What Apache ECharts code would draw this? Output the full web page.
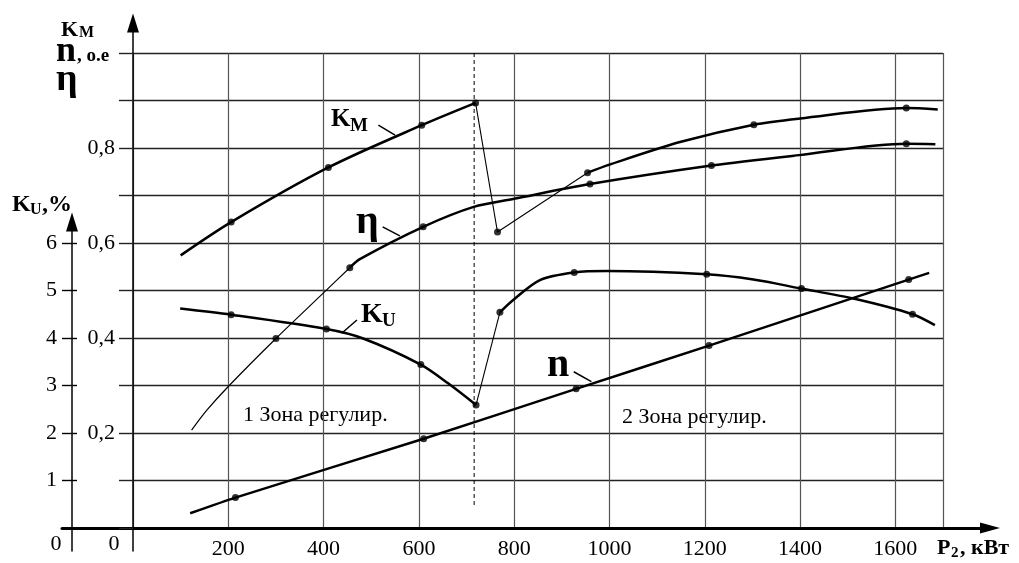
<!DOCTYPE html>
<html>
<head>
<meta charset="UTF-8">
<title>Зоны регулирования</title>
<script src="https://cdn.jsdelivr.net/npm/echarts@6/dist/echarts.min.js"></script>
<style>
  html,body{margin:0;padding:0;background:#fff}
  #main{width:1019px;height:563px}
</style>
</head>
<body>
<div id="main"></div>
<script>
// ось P2, кВт и подписи осей
var xTicks = [200, 400, 600, 800, 1000, 1200, 1400, 1600];
var etaTicks = [0.2, 0.4, 0.6, 0.8];
var kuTicks = [1, 2, 3, 4, 5, 6];

// Kм (о.е.)
var kmRise = [[100,0.574],[206,0.644],[410,0.759],[606,0.848],[719,0.895]];
var kmDrop = [[719,0.895],[765,0.623],[954,0.748]];
var kmTail = [[954,0.748],[1000,0.765],[1150,0.813],[1303,0.849],[1400,0.862],[1623,0.884],[1689,0.881]];
var kmDots = [[206,0.644],[410,0.759],[606,0.848],[719,0.895],[765,0.623],[954,0.748],[1303,0.849],[1623,0.884]];

// КПД η
var etaLow = [[123,0.206],[155,0.248],[201,0.299],[300,0.399],[402,0.497],[455,0.548]];
var etaHigh = [[455,0.548],[476,0.566],[609,0.634],[715,0.676],[800,0.693],[959,0.724],[1214,0.763],[1398,0.785],[1623,0.809],[1684,0.808]];
var etaDots = [[300,0.399],[455,0.548],[609,0.634],[959,0.724],[1214,0.763],[1623,0.809]];

// Ku, %
var kuLow = [[99,4.62],[206,4.49],[406,4.19],[483,3.99],[604,3.44],[662,3.04],[720,2.59]];
var kuRise = [[720,2.59],[770,4.54]];
var kuHigh = [[770,4.54],[798,4.80],[854,5.22],[926,5.38],[994,5.41],[1204,5.34],[1302,5.23],[1403,5.04],[1512,4.83],[1636,4.50],[1683,4.27]];
var kuDots = [[206,4.49],[406,4.19],[604,3.44],[720,2.59],[770,4.54],[926,5.38],[1204,5.34],[1403,5.04],[1636,4.50]];

// n (о.е.)
var nCurve = [[120,0.031],[215,0.064],[610,0.188],[930,0.293],[1209,0.384],[1628,0.523],[1671,0.537]];
var nDots = [[215,0.064],[610,0.188],[930,0.293],[1209,0.384],[1628,0.523]];

// граница зон и выноски
var zoneBorder = [[716,1.0],[716,0.048]];
var kmLeader = [[515,0.848],[550,0.827]];
var etaLeader = [[524,0.634],[560,0.615]];
var kuLeader = [[438,4.10],[470,4.38]];
var nLeader = [[925,0.329],[962,0.308]];

var FONT = 'Liberation Serif';

var chart = echarts.init(document.getElementById('main'));

function curve(data, width, yIdx, smooth) {
  return {type:'line', data:data, xAxisIndex:0, yAxisIndex:yIdx, smooth:smooth,
    symbol:'none', silent:true, animation:false, z:5,
    lineStyle:{color:'#000', width:width}};
}
function dots(data, yIdx) {
  return {type:'scatter', data:data, xAxisIndex:0, yAxisIndex:yIdx, symbolSize:7,
    silent:true, animation:false, z:6, itemStyle:{color:'#000'}};
}
function txt(x, y, s, size, bold, align) {
  return {type:'text', x:x, y:y, silent:true, style:{text:s, fontFamily:FONT, fontSize:size,
    fontWeight: bold ? 'bold' : 'normal', fill:'#000', align:align || 'left', verticalAlign:'middle'}};
}
function lineAxis(grid, size, width) {
  return {gridIndex:grid, min:0, max:1, axisLine:{show:true, symbol:['none','triangle'], symbolSize:size,
    lineStyle:{color:'#000', width:width}}, axisTick:{show:false}, axisLabel:{show:false}, splitLine:{show:false}};
}
function hidden(grid) {
  return {gridIndex:grid, show:false, min:0, max:1};
}

var labelStyle = {color:'#000', fontFamily:FONT, fontSize:22};

var option = {
  backgroundColor:'#fff',
  animation:false,
  grid:[
    {left:133, right:76, top:53, bottom:35, outerBoundsMode:'none'},
    {left:133, right:76, top:23, bottom:12, outerBoundsMode:'none'},
    {left:72, right:76, top:222, bottom:12, outerBoundsMode:'none'},
    {left:62, right:29, top:53, bottom:35, outerBoundsMode:'none'}
  ],
  xAxis:[
    {type:'value', gridIndex:0, min:0, max:1700, interval:200,
      axisLine:{show:false}, axisTick:{show:false},
      axisLabel:Object.assign({customValues:xTicks, margin:10, hideOverlap:false,
        formatter:function(v){ return String(v); }}, labelStyle),
      splitLine:{show:true, lineStyle:{color:'#555', width:1.2}}},
    hidden(1),
    hidden(2),
    {type:'value', gridIndex:3, min:0, max:1, axisLine:{show:true, symbol:['none','triangle'], symbolSize:[11,20],
      lineStyle:{color:'#000', width:3}}, axisTick:{show:false}, axisLabel:{show:false}, splitLine:{show:false}}
  ],
  yAxis:[
    {type:'value', gridIndex:0, min:0, max:1, interval:0.1,
      axisLine:{show:false},
      axisTick:{show:true, inside:false, length:14, lineStyle:{color:'#222', width:1.4}},
      axisLabel:Object.assign({customValues:etaTicks, margin:18, hideOverlap:false,
        formatter:function(v){ return v.toFixed(1).replace('.', ','); }}, labelStyle),
      splitLine:{show:true, lineStyle:{color:'#222', width:1.4}}},
    {type:'value', gridIndex:0, position:'left', offset:61, min:0, max:10,
      axisLine:{show:false},
      axisTick:{show:true, customValues:kuTicks, inside:false, length:10, lineStyle:{color:'#000', width:1.4}},
      axisLabel:Object.assign({customValues:kuTicks, margin:15, hideOverlap:false,
        formatter:function(v){ return String(v); }}, labelStyle),
      splitLine:{show:false}},
    {type:'value', gridIndex:0, position:'left', offset:61, min:0, max:10,
      axisLine:{show:false},
      axisTick:{show:true, customValues:kuTicks, inside:true, length:5, lineStyle:{color:'#000', width:1.4}},
      axisLabel:{show:false}, splitLine:{show:false}},
    lineAxis(1, [12,19], 1.5),
    lineAxis(2, [12,19], 1.5),
    hidden(3)
  ],
  series:[
    curve(kmRise, 2.5, 0, 0.3),
    curve(kmDrop, 1.1, 0, false),
    curve(kmTail, 2.5, 0, 0.3),
    curve(etaLow, 1.2, 0, 0.3),
    curve(etaHigh, 2.5, 0, 0.3),
    curve(kuLow, 2.5, 1, 0.3),
    curve(kuRise, 1.1, 1, false),
    curve(kuHigh, 2.5, 1, 0.3),
    curve(nCurve, 2.5, 0, 0.2),
    dots(kmDots, 0),
    dots(etaDots, 0),
    dots(nDots, 0),
    dots(kuDots, 1),
    {type:'line', data:zoneBorder, xAxisIndex:0, yAxisIndex:0, symbol:'none', silent:true, z:4,
      lineStyle:{color:'#000', width:1, type:[4,3]}},
    curve(kmLeader, 1.5, 0, false),
    curve(etaLeader, 1.5, 0, false),
    curve(kuLeader, 1.5, 1, false),
    curve(nLeader, 1.5, 0, false)
  ],
  graphic:[
    // заголовок левой оси
    txt(61, 30, 'K', 22, true),
    txt(79, 33, 'M', 16, true),
    txt(56, 52, 'n', 36, true),
    txt(77, 56, ', o.e', 19, true),
    txt(56, 80, 'η', 38, true),
    txt(12, 205, 'K', 24, true),
    txt(30, 210, 'U', 16, true),
    txt(42, 205, ',%', 24, true),
    txt(56, 544, '0', 22, false, 'center'),
    txt(114, 544, '0', 22, false, 'center'),
    // подпись оси абсцисс
    txt(937, 548, 'P', 22, true),
    txt(951, 553, '2', 15, true),
    txt(960, 548, ', кВт', 22, true),
    // подписи кривых
    txt(331, 120, 'K', 25, true),
    txt(350, 126, 'M', 19, true),
    txt(356, 223, 'η', 40, true),
    txt(361, 315, 'K', 28, true),
    txt(382, 321, 'U', 19, true),
    txt(547, 366, 'n', 40, true),
    txt(243, 415, '1 Зона регулир.', 22, false),
    txt(622, 417, '2 Зона регулир.', 22, false)
  ]
};

chart.setOption(option);
</script>
</body>
</html>
